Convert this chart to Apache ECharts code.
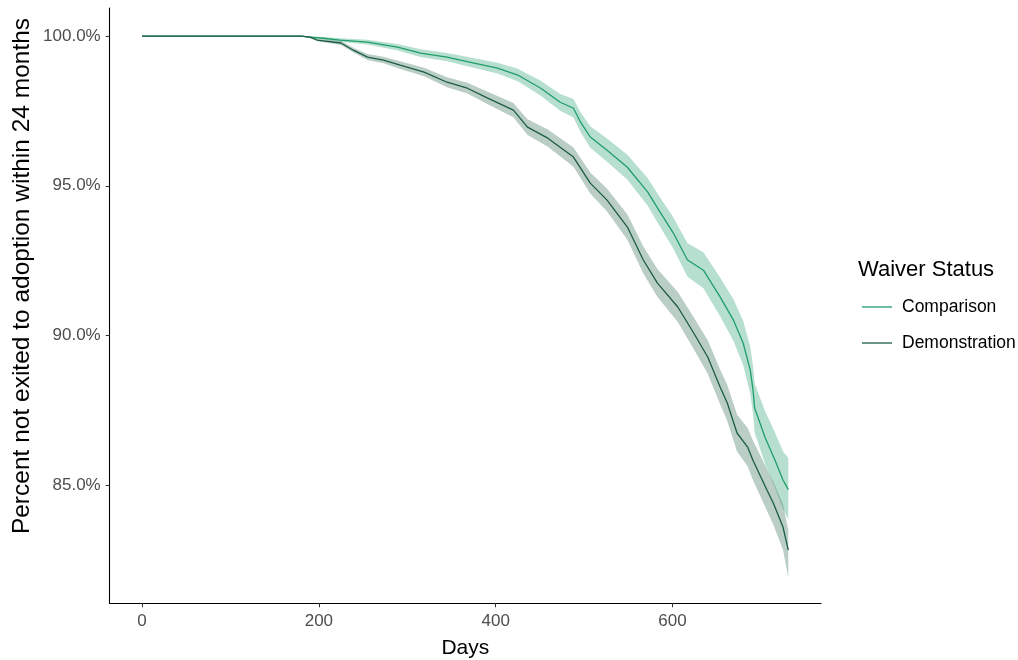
<!DOCTYPE html>
<html>
<head>
<meta charset="utf-8">
<script src="https://cdn.jsdelivr.net/npm/echarts@6/dist/echarts.min.js"></script>
<style>html,body{margin:0;padding:0;background:#fff}#c{width:1018px;height:660px}</style>
</head>
<body>
<div id="c"></div>
<script>
const groups = ["Comparison", "Demonstration"];
const xTicks = [0, 200, 400, 600];
const yTicks = [85, 90, 95, 100];

const compDays  = [0,180,190,205,224,255,289,315,345,360,402,425,451,473,488,496,507,526,549,572,586,601,617,635,654,669,680,688,691,693,705,716,725,731];
const compSurv  = [100,100,99.97,99.93,99.87,99.80,99.63,99.43,99.30,99.20,98.93,98.70,98.26,97.79,97.59,97.13,96.63,96.19,95.62,94.79,94.12,93.42,92.52,92.18,91.28,90.51,89.74,88.84,88.20,87.57,86.57,85.83,85.17,84.85];
const compLower = [100,100,99.94,99.89,99.81,99.72,99.52,99.30,99.16,99.05,98.75,98.49,98.01,97.51,97.28,96.80,96.27,95.80,95.20,94.33,93.63,92.90,91.96,91.58,90.63,89.81,89.00,88.06,87.40,86.75,85.69,84.91,84.21,83.85];
const compUpper = [100,100,100.00,99.97,99.93,99.88,99.74,99.56,99.44,99.35,99.11,98.91,98.51,98.07,97.90,97.46,96.99,96.58,96.04,95.25,94.61,93.94,93.08,92.78,91.93,91.21,90.48,89.62,89.00,88.39,87.45,86.75,86.13,85.90];

const demoDays  = [0,180,190,198,225,239,255,273,292,319,345,368,391,420,436,459,488,507,526,549,567,583,606,624,640,654,662,673,685,691,707,714,725,731];
const demoSurv  = [100,100,99.97,99.87,99.77,99.53,99.30,99.20,99.03,98.80,98.46,98.26,97.93,97.53,96.96,96.59,95.96,95.09,94.52,93.62,92.52,91.75,90.95,90.08,89.27,88.27,87.74,86.74,86.27,85.83,84.83,84.40,83.60,82.83];
const demoLower = [100,100,99.94,99.83,99.70,99.45,99.20,99.09,98.90,98.66,98.29,98.08,97.72,97.29,96.70,96.30,95.64,94.74,94.14,93.20,92.07,91.28,90.45,89.55,88.71,87.69,87.14,86.12,85.63,85.17,84.13,83.68,82.84,81.90];
const demoUpper = [100,100,100.00,99.91,99.84,99.61,99.40,99.31,99.16,98.94,98.63,98.44,98.14,97.77,97.22,96.88,96.28,95.44,94.90,94.04,92.97,92.22,91.45,90.61,89.83,88.85,88.34,87.36,86.91,86.49,85.53,85.12,84.36,83.50];

const lineColors = ["#1f9d6b", "#1b5c43"];
const bandColors = ["rgba(31,157,107,0.32)", "rgba(27,92,67,0.30)"];

function pairs(d, v) { return d.map((x, i) => [x, v[i]]); }

function bandSeries(name, d, lo, hi, color) {
  return {
    name: name + "_band", type: "custom", silent: true, z: 1,
    data: [[d[0], lo[0]]],
    renderItem: function (params, api) {
      const pts = [];
      for (let i = 0; i < d.length; i++) pts.push(api.coord([d[i], hi[i]]));
      for (let i = d.length - 1; i >= 0; i--) pts.push(api.coord([d[i], lo[i]]));
      return { type: "polygon", shape: { points: pts }, style: { fill: color, stroke: null } };
    }
  };
}

const FONT = "Liberation Sans, Arial, sans-serif";
const chart = echarts.init(document.getElementById("c"), null, { renderer: "canvas" });
chart.setOption({
  animation: false,
  backgroundColor: "#ffffff",
  grid: { left: 109.7, right: 197, top: 8, bottom: 56.7, containLabel: false, outerBoundsMode: "none" },
  xAxis: {
    type: "value", min: -36.6, max: 768,
    name: "Days", nameLocation: "middle", nameGap: 34,
    nameTextStyle: { fontFamily: FONT, fontSize: 21, color: "#000" },
    axisLine: { show: true, onZero: false, lineStyle: { color: "#000", width: 1.1 } },
    axisTick: { show: true, length: 4, lineStyle: { color: "#333" }, customValues: xTicks },
    axisLabel: { fontFamily: FONT, fontSize: 17, color: "#4d4d4d", margin: 10, customValues: xTicks },
    splitLine: { show: false }
  },
  yAxis: {
    type: "value", min: 81.05, max: 100.94,
    axisLine: { show: true, onZero: false, lineStyle: { color: "#000", width: 1.1 } },
    axisTick: { show: true, length: 4, lineStyle: { color: "#333" }, customValues: yTicks },
    axisLabel: { fontFamily: FONT, fontSize: 17, color: "#4d4d4d", margin: 9,
      formatter: v => v.toFixed(1) + "%", customValues: yTicks },
    splitLine: { show: false }
  },
  graphic: [{
    type: "text", x: 22, y: 276, rotation: Math.PI / 2,
    style: { text: "Percent not exited to adoption within 24 months", fontFamily: FONT, fontSize: 24.5,
      fill: "#000", align: "center", verticalAlign: "middle" }
  }],
  title: {
    text: "Waiver Status", left: 853, top: 254,
    textStyle: { fontFamily: FONT, fontSize: 22, fontWeight: "normal", color: "#000" }
  },
  legend: {
    data: groups.map((g, i) => ({ name: g, icon: "path://M0,0 L30,0 L30,1.3 L0,1.3 Z", itemStyle: { color: lineColors[i] } })),
    orient: "vertical", left: 857, top: 293, itemWidth: 30, itemHeight: 2, itemGap: 18,
    textStyle: { fontFamily: FONT, fontSize: 17.5, color: "#000", padding: [0, 0, 0, 5] }
  },
  series: [
    bandSeries("Comparison", compDays, compLower, compUpper, bandColors[0]),
    bandSeries("Demonstration", demoDays, demoLower, demoUpper, bandColors[1]),
    { name: groups[0], type: "line", data: pairs(compDays, compSurv), symbol: "none",
      lineStyle: { color: lineColors[0], width: 1.3 }, itemStyle: { color: lineColors[0] }, z: 3 },
    { name: groups[1], type: "line", data: pairs(demoDays, demoSurv), symbol: "none",
      lineStyle: { color: lineColors[1], width: 1.3 }, itemStyle: { color: lineColors[1] }, z: 3 }
  ]
});
</script>
</body>
</html>
